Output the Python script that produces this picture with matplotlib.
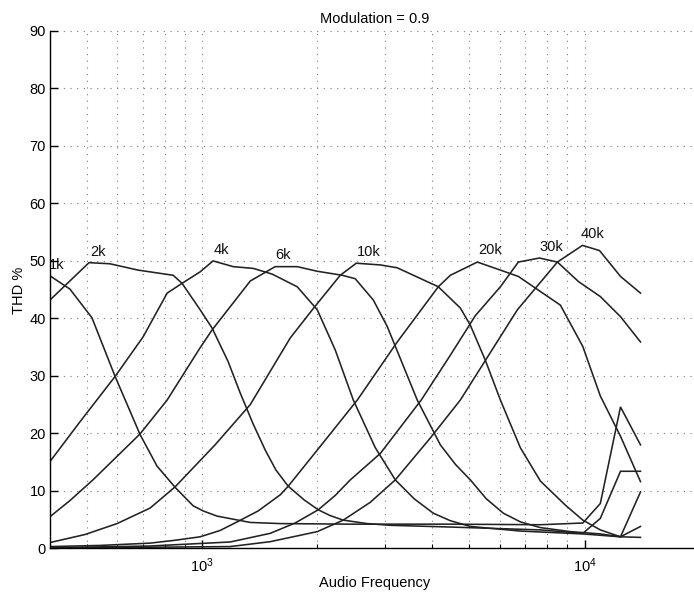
import matplotlib
matplotlib.use("Agg")
import matplotlib.pyplot as plt
from matplotlib.ticker import LogLocator

plt.rcParams['font.family'] = ['Liberation Sans', 'DejaVu Sans']
plt.rcParams['mathtext.fontset'] = 'custom'
plt.rcParams['mathtext.rm'] = 'Liberation Sans'

# ---- data ----
labels = ['1k', '2k', '4k', '6k', '10k', '20k', '30k', '40k']

f_1k = [400, 451, 515, 592, 688, 762, 850, 947, 1006, 1094, 1336, 1600, 2440, 4458, 7667, 9900, 11000, 12420, 14010]
thd_1k = [47.4, 45.1, 40.1, 29.9, 19.8, 14.3, 10.6, 7.4, 6.5, 5.6, 4.5, 4.3, 4.2, 4.2, 4.1, 4.4, 7.8, 24.6, 18.0]

f_2k = [400, 506, 574, 680, 840, 886, 988, 1062, 1169, 1258, 1360, 1462, 1560, 1679, 1850, 2012, 2160, 2339, 2700, 3105, 4458, 7667, 9900, 11000, 12420, 14010]
thd_2k = [43.2, 49.7, 49.5, 48.4, 47.5, 46.1, 41.5, 38.3, 32.5, 27.0, 21.6, 17.1, 13.6, 10.8, 8.4, 6.7, 5.7, 4.9, 4.3, 4.0, 3.7, 3.2, 2.6, 5.2, 13.4, 13.4]

f_4k = [400, 479, 592, 701, 810, 886, 988, 1068, 1206, 1360, 1525, 1773, 2000, 2229, 2485, 2837, 3200, 3587, 4024, 4458, 5029, 6795, 9900, 12420, 14010]
thd_4k = [15.1, 22.0, 29.9, 36.8, 44.4, 46.1, 48.1, 50.0, 49.0, 48.7, 47.7, 45.5, 41.5, 34.5, 25.8, 17.5, 11.9, 8.6, 6.1, 4.8, 3.8, 3.0, 2.5, 2.0, 9.8]

f_6k = [400, 451, 518, 688, 810, 988, 1062, 1336, 1552, 1773, 2000, 2325, 2514, 2803, 3048, 3652, 4197, 4596, 5029, 5538, 6136, 6795, 7667, 9188, 11000, 12420, 14010]
thd_6k = [5.5, 8.3, 11.9, 19.9, 25.8, 34.9, 38.0, 46.5, 49.0, 49.0, 48.2, 47.5, 46.9, 43.2, 38.6, 25.8, 18.0, 14.6, 11.9, 8.6, 6.1, 4.6, 3.6, 2.9, 2.5, 2.0, 3.8]

f_10k = [400, 494, 599, 731, 850, 1081, 1336, 1700, 1952, 2297, 2530, 2924, 3238, 4146, 4735, 5029, 5505, 6026, 6795, 7667, 8915, 9900, 11000, 12420, 14010]
thd_10k = [1.0, 2.4, 4.3, 7.0, 10.7, 18.0, 25.0, 36.6, 41.7, 47.5, 49.6, 49.3, 48.8, 45.5, 41.8, 38.8, 32.7, 25.8, 17.5, 11.7, 7.5, 4.9, 3.2, 2.0, 1.9]

f_20k = [400, 541, 731, 850, 988, 1114, 1235, 1401, 1600, 1679, 2012, 2546, 3238, 4146, 4458, 5245, 6026, 6713, 8650, 9900, 11000, 12420, 14010]
thd_20k = [0.3, 0.5, 0.9, 1.4, 2.0, 3.1, 4.6, 6.5, 9.3, 10.8, 17.3, 25.8, 35.9, 45.5, 47.5, 49.8, 48.4, 47.3, 42.3, 35.1, 26.5, 19.5, 11.6]

f_30k = [400, 731, 1184, 1506, 1751, 2012, 2229, 2440, 2924, 3741, 4458, 5185, 6026, 6713, 7623, 8494, 9646, 11000, 12420, 14010]
thd_30k = [0.1, 0.4, 1.1, 2.6, 4.4, 6.7, 9.2, 11.9, 16.5, 25.8, 33.6, 40.5, 45.5, 49.8, 50.5, 49.8, 46.4, 43.8, 40.3, 35.9]

f_40k = [400, 1184, 1506, 2000, 2339, 2752, 3200, 3952, 4735, 6676, 8494, 9878, 10947, 12420, 14010]
thd_40k = [0.05, 0.3, 1.15, 2.9, 4.9, 8.0, 11.9, 19.2, 25.8, 41.5, 49.8, 52.7, 51.8, 47.3, 44.4]

label_f = [416, 534, 1121, 1624, 2720, 5673, 8194, 10464]
label_thd = [49.3, 51.6, 51.9, 51.0, 51.6, 51.9, 52.4, 54.7]

freqs = [f_1k, f_2k, f_4k, f_6k, f_10k, f_20k, f_30k, f_40k]
thds = [thd_1k, thd_2k, thd_4k, thd_6k, thd_10k, thd_20k, thd_30k, thd_40k]

# ---- figure ----
W, H = 694, 597
fig = plt.figure(figsize=(W / 100, H / 100), dpi=100)
left, right, top, bottom = 50, 699.6, 31, 548.3
ax = fig.add_axes([left / W, (H - bottom) / H, (right - left) / W, (bottom - top) / H])

for f, t in zip(freqs, thds):
    ax.plot(f, t, color='#222222', lw=1.15, solid_joinstyle='miter')

for lab, lf, lt in zip(labels, label_f, label_thd):
    ax.text(lf, lt, lab, ha='center', va='center', fontsize=10.5, color='#111111')

ax.set_xscale('log')
ax.set_xlim(400, 20000)
ax.set_ylim(0, 90)
ax.set_yticks(range(0, 91, 10))
ax.xaxis.set_major_locator(LogLocator(base=10))
ax.xaxis.set_minor_locator(LogLocator(base=10, subs=range(2, 10)))

grid_kw = dict(linestyle=(0, (1, 5)), color='#7a7a7a', lw=0.8)
ax.grid(True, which='both', axis='x', **grid_kw)
ax.grid(True, which='major', axis='y', **grid_kw)
ax.set_axisbelow(True)

ax.spines['top'].set_visible(False)
ax.spines['right'].set_visible(False)
ax.spines['left'].set_linewidth(1.0)
ax.spines['bottom'].set_linewidth(1.0)
ax.tick_params(which='both', direction='in', top=False, right=False, labelsize=10.5)
ax.tick_params(which='major', length=6, width=1.0)
ax.tick_params(which='minor', length=3, width=0.8)
ax.tick_params(axis='y', pad=3)
ax.tick_params(axis='x', pad=6)

ax.set_title('Modulation = 0.9', fontsize=10.5, pad=6)
fig.text(375 / W, 1 - 583 / H, 'Audio Frequency', ha='center', va='center', fontsize=10.5)
fig.text(19 / W, 1 - 290 / H, 'THD %', ha='center', va='center', rotation=90, fontsize=10.5)

fig.savefig('out.png', dpi=100)
